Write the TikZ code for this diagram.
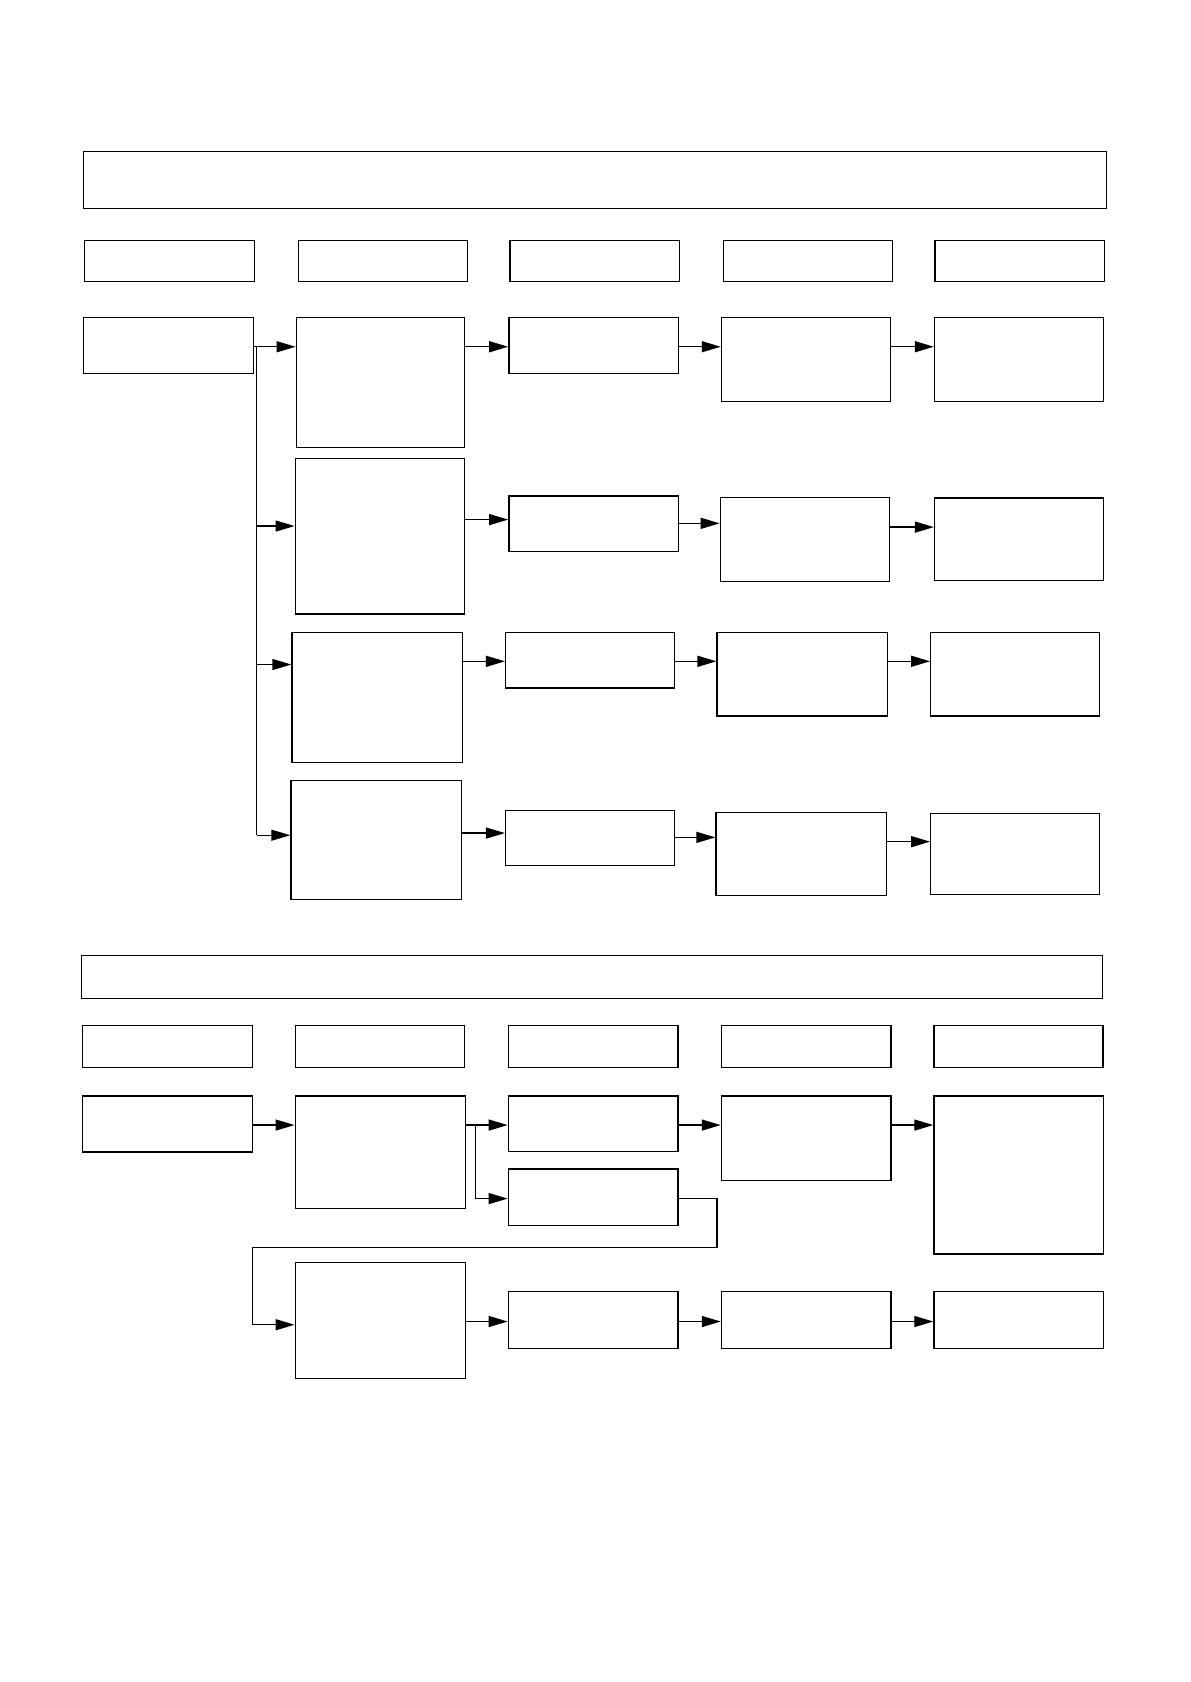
\documentclass[tikz,border=0pt]{standalone}
\usetikzlibrary{arrows.meta,fit}
\tikzset{
  box/.style={draw, line width=0.65pt, inner sep=0pt},
  ln/.style={line width=0.65pt},
  arr/.style={line width=0.65pt, -{Triangle[length=9.5pt,width=5.5pt]}}
}
\newcommand\bx[5]{\node[box, fit={(#2,#3)(#4,#5)}] (#1) {};}
\begin{document}
\begin{tikzpicture}[x=0.53675pt, y=-0.53675pt]
\useasboundingbox (0,0) rectangle (1108.5,1566.8);
% ---------- top section ----------
\bx{T}{78}{141}{1031}{194}
\bx{h1}{79}{224}{237}{262}
\bx{h2}{278}{224}{435.5}{262}
\bx{h3}{475}{224}{633}{262}
\bx{h4}{674}{224}{831.5}{262}
\bx{h5}{871}{224}{1029}{262}
% row 1
\bx{A}{78}{296}{236}{348}
\bx{B1}{276}{296}{433}{417}
\bx{C1}{474}{296}{632}{348}
\bx{D1}{672}{296}{829.5}{374}
\bx{E1}{870.5}{296}{1028}{374}
% row 2
\bx{B2}{275}{427}{432.5}{572}
\bx{C2}{474}{462}{632}{514}
\bx{D2}{671}{463.5}{828.5}{541.5}
\bx{E2}{870.5}{464}{1028}{541}
% row 3
\bx{B3}{272}{589}{431}{710}
\bx{C3}{471}{589}{628}{641}
\bx{D3}{668}{589}{827}{667}
\bx{E3}{867}{589}{1024}{667}
% row 4
\bx{B4}{271}{727}{430}{838}
\bx{C4}{471}{755}{628}{806}
\bx{D4}{667}{757}{826}{834}
\bx{E4}{867}{758}{1024}{833}
% trunk
\coordinate (t1) at (239,323);
\coordinate (t2) at (239,490);
\coordinate (t3) at (239,619);
\coordinate (t4) at (239,778);
\draw[ln] (A.east |- t1) -- (t1) -- (t4);
\draw[arr] (t1) -- (B1.west |- t1);
\draw[arr] (t2) -- (B2.west |- t2);
\draw[arr] (t3) -- (B3.west |- t3);
\draw[arr] (t4) -- (B4.west |- t4);
% row arrows
\coordinate (r1) at (0,323);
\draw[arr] (B1.east |- r1) -- (C1.west |- r1);
\draw[arr] (C1.east |- r1) -- (D1.west |- r1);
\draw[arr] (D1.east |- r1) -- (E1.west |- r1);
\coordinate (r2a) at (0,484);
\coordinate (r2b) at (0,487.5);
\coordinate (r2c) at (0,491);
\draw[arr] (B2.east |- r2a) -- (C2.west |- r2a);
\draw[arr] (C2.east |- r2b) -- (D2.west |- r2b);
\draw[arr] (D2.east |- r2c) -- (E2.west |- r2c);
\coordinate (r3) at (0,616);
\draw[arr] (B3.east |- r3) -- (C3.west |- r3);
\draw[arr] (C3.east |- r3) -- (D3.west |- r3);
\draw[arr] (D3.east |- r3) -- (E3.west |- r3);
\coordinate (r4a) at (0,776);
\coordinate (r4b) at (0,780);
\coordinate (r4c) at (0,784);
\draw[arr] (B4.east |- r4a) -- (C4.west |- r4a);
\draw[arr] (C4.east |- r4b) -- (D4.west |- r4b);
\draw[arr] (D4.east |- r4c) -- (E4.west |- r4c);
% ---------- bottom section ----------
\bx{U}{76}{890}{1027}{930}
\bx{g1}{77}{955}{235}{994.5}
\bx{g2}{275}{955}{433}{994.5}
\bx{g3}{473.5}{955}{631.5}{994.5}
\bx{g4}{672}{955}{830}{994.5}
\bx{g5}{870}{955}{1027.5}{994.5}
\bx{F}{77}{1021}{235}{1073}
\bx{G}{275}{1021}{433.5}{1125.5}
\bx{H1}{473.5}{1021}{631.5}{1072.5}
\bx{H2}{473.5}{1089}{631.5}{1141.5}
\bx{I1}{672}{1021}{830}{1099.5}
\bx{J1}{870}{1021}{1028}{1168}
\bx{K}{275}{1176}{433.5}{1284}
\bx{L}{473.5}{1203}{631.5}{1256}
\bx{M}{672}{1203}{830}{1256}
\bx{N}{870}{1203}{1028}{1256}
\coordinate (s1) at (0,1048);
\draw[arr] (F.east |- s1) -- (G.west |- s1);
\coordinate (bx) at (443,1048);
\coordinate (by) at (443,1116.5);
\draw[ln] (G.east |- s1) -- (bx) -- (by);
\draw[arr] (bx) -- (H1.west |- bx);
\draw[arr] (by) -- (H2.west |- by);
\draw[arr] (H1.east |- s1) -- (I1.west |- s1);
\draw[arr] (I1.east |- s1) -- (J1.west |- s1);
\coordinate (q1) at (668,1116.5);
\coordinate (q2) at (668,1162);
\coordinate (q3) at (235,1162);
\coordinate (q4) at (235,1234);
\draw[ln] (H2.east |- q1) -- (q1) -- (q2) -- (q3) -- (q4);
\draw[arr] (q4) -- (K.west |- q4);
\coordinate (s2) at (0,1231);
\draw[arr] (K.east |- s2) -- (L.west |- s2);
\draw[arr] (L.east |- s2) -- (M.west |- s2);
\draw[arr] (M.east |- s2) -- (N.west |- s2);
\end{tikzpicture}
\end{document}
